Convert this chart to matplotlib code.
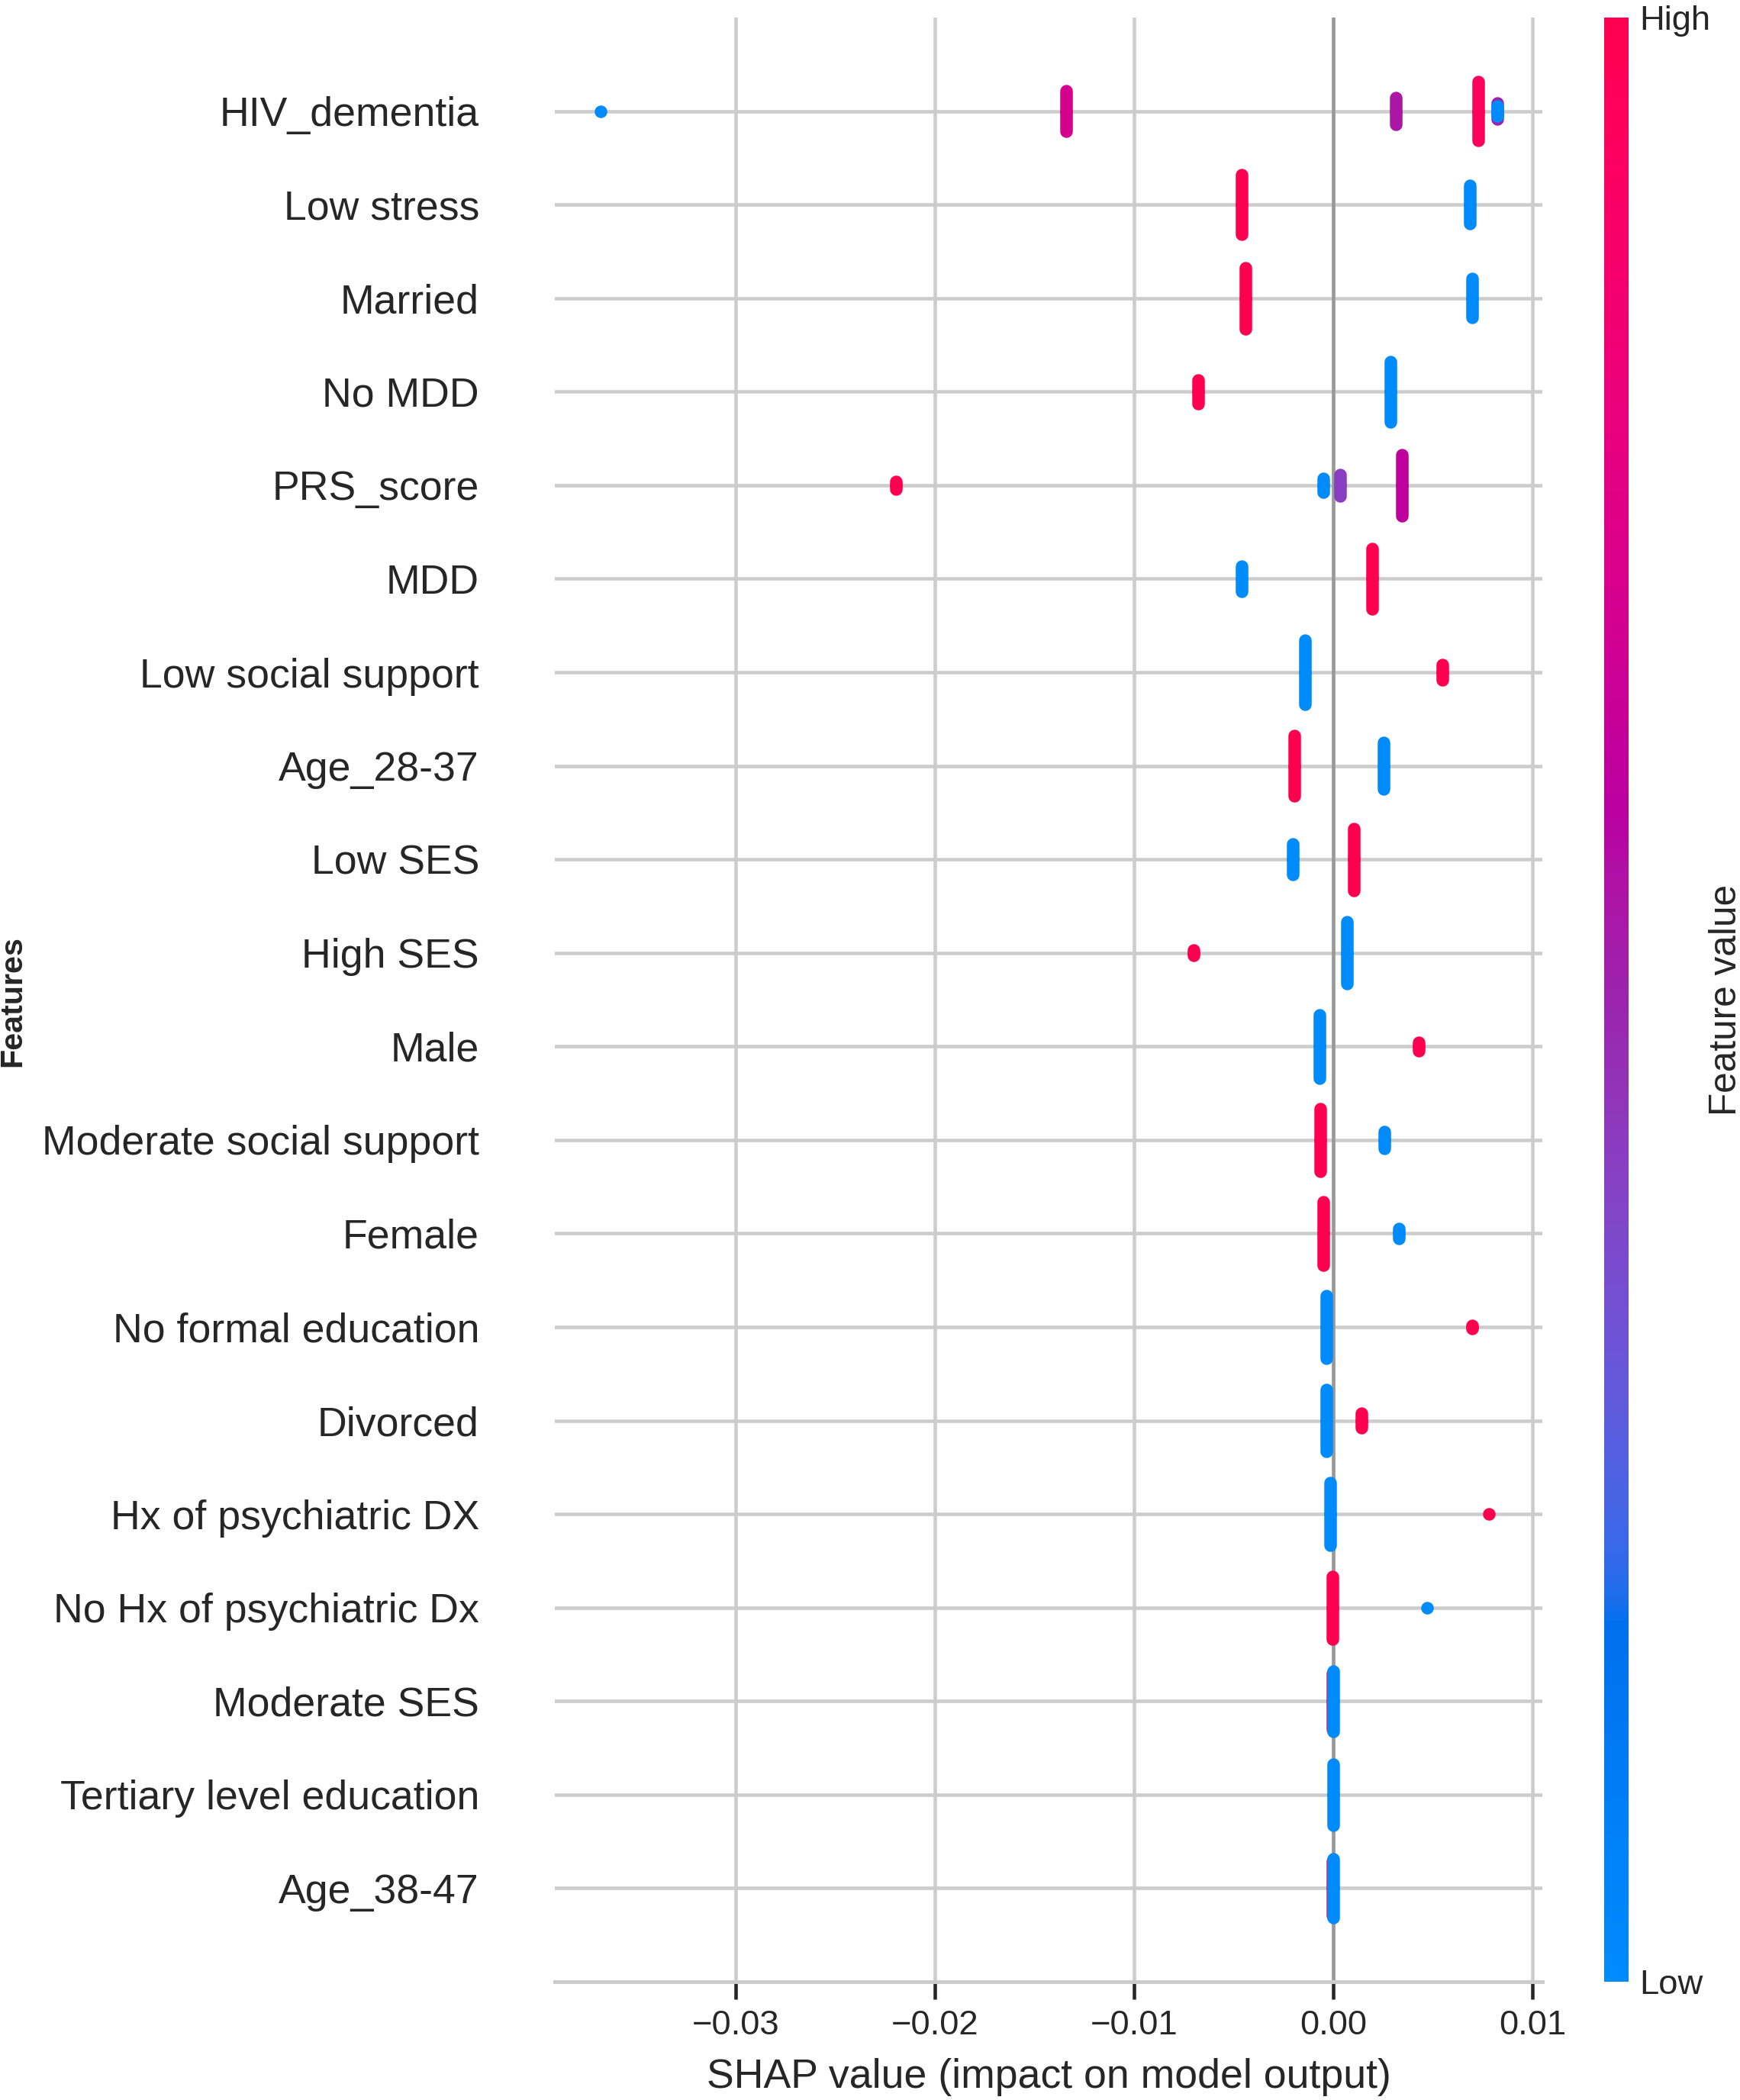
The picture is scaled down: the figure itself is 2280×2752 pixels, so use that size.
import numpy as np
import matplotlib
matplotlib.use("Agg")
import matplotlib.pyplot as plt
from matplotlib.colors import LinearSegmentedColormap, Normalize
from matplotlib.cm import ScalarMappable

plt.rcParams['font.family'] = ['Liberation Sans', 'DejaVu Sans']

# ---------------- data ----------------
features = ["HIV_dementia", "Low stress", "Married", "No MDD", "PRS_score", "MDD",
            "Low social support", "Age_28-37", "Low SES", "High SES", "Male",
            "Moderate social support", "Female", "No formal education", "Divorced",
            "Hx of psychiatric DX", "No Hx of psychiatric Dx", "Moderate SES",
            "Tertiary level education", "Age_38-47"]

# each cluster of (stacked) SHAP points: feature, SHAP value, vertical half-spread (rows), feature value (0=low,1=high)
clu_feature = ["HIV_dementia", "HIV_dementia", "HIV_dementia", "HIV_dementia", "HIV_dementia", "HIV_dementia",
               "Low stress", "Low stress",
               "Married", "Married",
               "No MDD", "No MDD",
               "PRS_score", "PRS_score", "PRS_score", "PRS_score",
               "MDD", "MDD",
               "Low social support", "Low social support",
               "Age_28-37", "Age_28-37",
               "Low SES", "Low SES",
               "High SES", "High SES",
               "Male", "Male",
               "Moderate social support", "Moderate social support",
               "Female", "Female",
               "No formal education", "No formal education",
               "Divorced", "Divorced",
               "Hx of psychiatric DX", "Hx of psychiatric DX",
               "No Hx of psychiatric Dx", "No Hx of psychiatric Dx",
               "Moderate SES", "Moderate SES",
               "Tertiary level education",
               "Age_38-47", "Age_38-47"]
clu_shap = [-0.0368, -0.0134, 0.00315, 0.00727, 0.00825, 0.00825,
            -0.00461, 0.00685,
            -0.00440, 0.00699,
            -0.00680, 0.00289,
            -0.02195, -0.00052, 0.00033, 0.00344,
            -0.00461, 0.00196,
            -0.00144, 0.00547,
            -0.00195, 0.00254,
            -0.00202, 0.00103,
            -0.00700, 0.00070,
            -0.00069, 0.00429,
            -0.00067, 0.00258,
            -0.00052, 0.00331,
            -0.00036, 0.00696,
            -0.00033, 0.00143,
            -0.00014, 0.00783,
            -0.00006, 0.00473,
            -0.00003, 0.00001,
            0.00001,
            -0.00003, 0.00001]
clu_spread = [0.0, 0.214, 0.145, 0.314, 0.088, 0.05,
              0.316, 0.206,
              0.328, 0.206,
              0.128, 0.324,
              0.039, 0.071, 0.112, 0.324,
              0.133, 0.324,
              0.340, 0.085,
              0.324, 0.251,
              0.161, 0.330,
              0.027, 0.332,
              0.340, 0.047,
              0.336, 0.088,
              0.340, 0.055,
              0.336, 0.014,
              0.332, 0.075,
              0.336, 0.0,
              0.336, 0.0,
              0.30, 0.324,
              0.328,
              0.29, 0.316]
clu_value = [0.0, 0.70, 0.55, 0.95, 0.50, 0.0,
             1.0, 0.0,
             1.0, 0.0,
             1.0, 0.0,
             1.0, 0.0, 0.42, 0.62,
             0.0, 1.0,
             0.0, 1.0,
             1.0, 0.0,
             0.0, 1.0,
             1.0, 0.0,
             0.0, 1.0,
             1.0, 0.0,
             1.0, 0.0,
             0.0, 1.0,
             0.0, 1.0,
             0.0, 1.0,
             1.0, 0.0,
             1.0, 0.0,
             0.0,
             1.0, 0.0]

x_ticks = [-0.03, -0.02, -0.01, 0.00, 0.01]
x_ticklabels = ["\u22120.03", "\u22120.02", "\u22120.01", "0.00", "0.01"]
x_label = "SHAP value (impact on model output)"
y_label = "Features"
cbar_label = "Feature value"
cbar_ticklabels = ["Low", "High"]

# ---------------- SHAP red_blue colormap (LCH interpolation) ----------------
def lch_to_rgb(l, c, h):
    a = c * np.cos(h)
    b = c * np.sin(h)
    fy = (l + 16.0) / 116.0
    fx = fy + a / 500.0
    fz = fy - b / 200.0
    def finv(t):
        return np.where(t > 6 / 29, t ** 3, 3 * (6 / 29) ** 2 * (t - 4 / 29))
    X = 0.95047 * finv(fx)
    Y = 1.0 * finv(fy)
    Z = 1.08883 * finv(fz)
    M = np.array([[3.2404542, -1.5371385, -0.4985314],
                  [-0.9692660, 1.8760108, 0.0415560],
                  [0.0556434, -0.2040259, 1.0572252]])
    lin = M @ np.array([X, Y, Z])
    lin = np.clip(lin, 0, None)
    srgb = np.where(lin <= 0.0031308, 12.92 * lin, 1.055 * lin ** (1 / 2.4) - 0.055)
    return np.clip(srgb, 0, 1)

blue_lch = [54., 70., 4.6588]
l_mid = 40.
red_lch = [54., 90., 0.35470565 + 2 * np.pi]
nsteps = 100
l_vals = list(np.linspace(blue_lch[0], l_mid, nsteps // 2)) + list(np.linspace(l_mid, red_lch[0], nsteps // 2))
c_vals = np.linspace(blue_lch[1], red_lch[1], nsteps)
h_vals = np.linspace(blue_lch[2], red_lch[2], nsteps)
cols = [lch_to_rgb(l, c, h) for l, c, h in zip(l_vals, c_vals, h_vals)]
red_blue = LinearSegmentedColormap.from_list("red_blue", list(zip(np.linspace(0, 1, nsteps), cols)))

# ---------------- figure ----------------
W, H, DPI = 2280, 2752, 297
fig = plt.figure(figsize=(W / DPI, H / DPI), dpi=DPI)
ax = fig.add_axes([727 / W, 1 - 2597 / H, (2021 - 727) / W, (2597 - 23) / H])

n = len(features)
ypos = {f: n - 1 - i for i, f in enumerate(features)}

ax.set_xlim(-0.0391, 0.0105)
ax.set_ylim(-1, n)

grid_col = "#cccccc"
text_col = "#262626"
for x in x_ticks:
    ax.axvline(x, color=grid_col, lw=1.1, zorder=-3)
for f in features:
    ax.axhline(ypos[f], color=grid_col, lw=1.1, zorder=-3)
ax.axvline(0, color="#999999", lw=1.1, zorder=-2)

norm = Normalize(0, 1)
lw_pt = 4.0
for f, xv, sp, cv in zip(clu_feature, clu_shap, clu_spread, clu_value):
    y = ypos[f]
    col = red_blue(norm(cv))
    if sp > 0:
        lc = ax.vlines([xv], [y - sp], [y + sp], colors=[col], lw=lw_pt, zorder=3)
        lc.set_capstyle("round")
    ax.scatter([xv], [y], s=lw_pt ** 2, color=[col], linewidths=0, zorder=3)

ax.set_yticks([ypos[f] for f in features])
ax.set_yticklabels(features, fontsize=13, color=text_col)
ax.tick_params(axis="y", length=0, pad=24)
ax.set_xticks(x_ticks)
ax.set_xticklabels(x_ticklabels, fontsize=11, color=text_col)
ax.tick_params(axis="x", length=5.5, width=1.1, color=text_col, pad=3.5, direction="out")
ax.set_xlabel(x_label, fontsize=13, color=text_col, labelpad=5.2)

for s in ["top", "right", "left"]:
    ax.spines[s].set_visible(False)
ax.spines["bottom"].set_color(grid_col)
ax.spines["bottom"].set_linewidth(1.2)
ax.set_facecolor("white")

fig.text(16 / W, 1 - 1312 / H, y_label, rotation=90, ha="center", va="center",
         fontsize=10, fontweight="bold", color=text_col)

cax = fig.add_axes([2102 / W, 1 - 2597 / H, 32 / W, (2597 - 23) / H])
sm = ScalarMappable(norm=norm, cmap=red_blue)
cb = fig.colorbar(sm, cax=cax, ticks=[0, 1])
cb.set_ticklabels(cbar_ticklabels)
cb.ax.tick_params(labelsize=11, length=0, colors=text_col)
cb.outline.set_visible(False)
fig.text(2262 / W, 1 - 1310 / H, cbar_label, rotation=90, ha="center", va="center",
         fontsize=12, color=text_col)

fig.savefig("out.png", dpi=DPI, facecolor="white")
